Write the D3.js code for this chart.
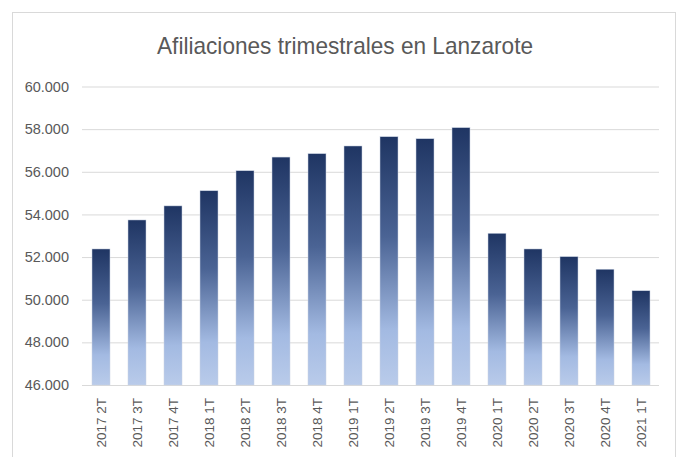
<!DOCTYPE html>
<html>
<head>
<meta charset="utf-8">
<script src="https://cdn.jsdelivr.net/npm/d3@7.9.0/dist/d3.min.js"></script>
<style>
  body { margin: 0; background: #fff; }
  svg { display: block; }
</style>
</head>
<body>
<div id="chart"></div>
<script>
// quarters and affiliation counts
const quarters = ['2017 2T', '2017 3T', '2017 4T', '2018 1T', '2018 2T', '2018 3T', '2018 4T',
  '2019 1T', '2019 2T', '2019 3T', '2019 4T', '2020 1T', '2020 2T', '2020 3T', '2020 4T', '2021 1T'];
const afiliaciones = [52380, 53740, 54400, 55110, 56050, 56690, 56850,
  57210, 57645, 57550, 58070, 53115, 52380, 52020, 51430, 50420];
const yTicks = [46000, 48000, 50000, 52000, 54000, 56000, 58000, 60000];
const title = 'Afiliaciones trimestrales en Lanzarote';

const width = 682;
const height = 457;
const font = "'Liberation Sans Narrow', 'Liberation Sans', sans-serif";
const textColor = '#595959';

const svg = d3.select('#chart')
  .append('svg')
  .attr('width', width)
  .attr('height', height);

// chart area frame (bottom runs off the picture)
svg.append('rect')
  .attr('x', 12.5).attr('y', 12.5)
  .attr('width', 663).attr('height', 460)
  .attr('fill', '#fff')
  .attr('stroke', '#d9d9d9');

const margin = { top: 86.5, right: 23, bottom: 72, left: 83 };

const x = d3.scaleBand()
  .domain(quarters)
  .range([margin.left, width - margin.right])
  .paddingInner(0.5)
  .paddingOuter(0.25);

const y = d3.scaleLinear()
  .domain([46000, 60000])
  .range([385, margin.top]);

// gradient per bar, dark on top
const grad = svg.append('defs').append('linearGradient')
  .attr('id', 'barGrad')
  .attr('x1', 0).attr('y1', 0).attr('x2', 0).attr('y2', 1);
grad.append('stop').attr('offset', '0%').attr('stop-color', '#1f3563');
grad.append('stop').attr('offset', '40%').attr('stop-color', '#4a6394');
grad.append('stop').attr('offset', '78%').attr('stop-color', '#a3bae2');
grad.append('stop').attr('offset', '100%').attr('stop-color', '#b9cbea');

// gridlines
const fmt = d3.format(',');
svg.append('g')
  .attr('transform', `translate(${margin.left - 1}, 0)`)
  .call(d3.axisLeft(y).tickValues(yTicks).tickSize(-(width - margin.right - margin.left + 1)).tickFormat(''))
  .call(g => g.select('.domain').remove())
  .call(g => g.selectAll('line').attr('stroke', '#d9d9d9'));

// bars
svg.append('g')
  .selectAll('rect')
  .data(quarters.map((q, i) => ({ q, v: afiliaciones[i] })))
  .join('rect')
  .attr('x', d => x(d.q))
  .attr('y', d => y(d.v))
  .attr('width', x.bandwidth())
  .attr('height', d => y(46000) - y(d.v))
  .attr('fill', 'url(#barGrad)')
  .attr('stroke', '#c9d3e3')
  .attr('stroke-width', 0.5);

// y axis labels
svg.append('g')
  .attr('transform', `translate(69, 0)`)
  .call(d3.axisLeft(y).tickValues(yTicks).tickSize(0).tickPadding(0)
    .tickFormat(d => fmt(d).replace(/,/g, '.')))
  .call(g => g.select('.domain').remove())
  .call(g => g.selectAll('text')
    .attr('fill', textColor)
    .style('font-family', font)
    .style('font-size', '14.5px'));

// x axis labels, rotated
svg.append('g')
  .attr('transform', `translate(0, 385)`)
  .call(d3.axisBottom(x).tickSize(0).tickPadding(0))
  .call(g => g.select('.domain').remove())
  .call(g => g.selectAll('text')
    .attr('fill', textColor)
    .style('font-family', font)
    .style('font-size', '13.5px')
    .attr('text-anchor', 'end')
    .attr('dy', '0.35em')
    .attr('transform', 'translate(0, 13) rotate(-90)'));

// title
svg.append('text')
  .attr('x', 345)
  .attr('y', 54)
  .attr('text-anchor', 'middle')
  .attr('fill', textColor)
  .attr('textLength', 376)
  .attr('lengthAdjust', 'spacingAndGlyphs')
  .style('font-family', font)
  .style('font-size', '24px')
  .text(title);
</script>
</body>
</html>
